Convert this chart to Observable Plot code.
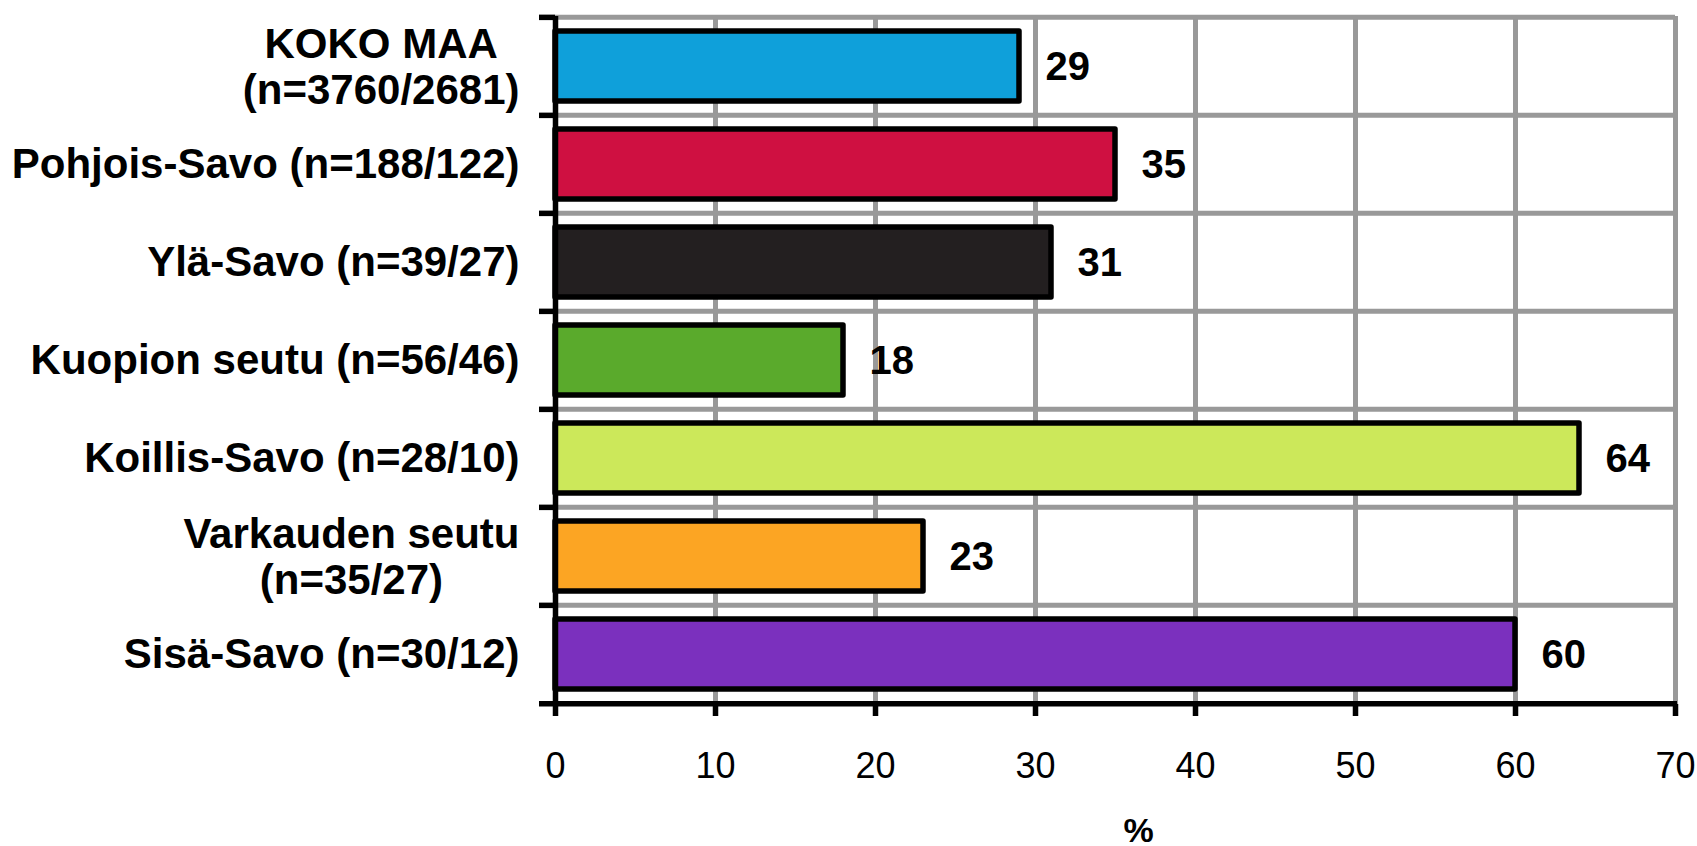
<!DOCTYPE html>
<html>
<head>
<meta charset="utf-8">
<script src="https://cdn.jsdelivr.net/npm/d3@7"></script>
<script src="https://cdn.jsdelivr.net/npm/@observablehq/plot@0.6"></script>
<style>
  html, body { margin: 0; padding: 0; background: #fff; }
  #chart svg { display: block; }
</style>
</head>
<body>
<div id="chart"></div>
<script>
const categories = [
  "KOKO MAA\n(n=3760/2681)",
  "Pohjois-Savo (n=188/122)",
  "Ylä-Savo (n=39/27)",
  "Kuopion seutu (n=56/46)",
  "Koillis-Savo (n=28/10)",
  "Varkauden seutu\n(n=35/27)",
  "Sisä-Savo (n=30/12)"
];
const values = [29, 35, 31, 18, 64, 23, 60];
const colors = ["#0FA0DA", "#CF1041", "#231F20", "#5AAA2C", "#CCE85A", "#FCA523", "#7B30BE"];
const xTicks = [0, 10, 20, 30, 40, 50, 60, 70];
const xLabel = "%";

const data = categories.map((c, i) => ({cat: c, value: values[i], color: colors[i]}));

const W = 1697, H = 846;
const mt = 16, mb = 142, ml = 555, mr = 22;
const step = (H - mt - mb) / categories.length;
const font = "'Liberation Sans', Arial, sans-serif";
const labelSize = 42;

const ctx = document.createElement("canvas").getContext("2d");
ctx.font = `bold ${labelSize}px 'Liberation Sans', Arial, sans-serif`;
const lineW = (s) => Math.max(...s.split("\n").map(l => ctx.measureText(l).width));

const singleCats = categories.filter(c => !c.includes("\n"));
const multiCats = categories.filter(c => c.includes("\n"));
const basePad = 36;

const labelAxes = [
  Plot.axisY({ticks: singleCats, tickSize: 0, tickPadding: basePad, fontSize: labelSize, fontWeight: "bold", textAnchor: "end", label: null, color: "black"}),
  ...multiCats.map(c => Plot.axisY({ticks: [c], tickSize: 0, tickPadding: basePad + lineW(c) / 2, fontSize: labelSize, fontWeight: "bold", textAnchor: "middle", lineHeight: 1.1, label: null, color: "black"}))
];

const chart = Plot.plot({
  width: W,
  height: H,
  marginTop: mt,
  marginBottom: mb,
  marginLeft: ml,
  marginRight: mr,
  style: {fontFamily: font, background: "white", overflow: "visible"},
  x: {domain: [xTicks[0], xTicks[xTicks.length - 1]]},
  y: {domain: categories, padding: 0},
  color: {type: "identity"},
  marks: [
    Plot.ruleX(xTicks.slice(1), {stroke: "#999999", strokeWidth: 5}),
    Plot.ruleY(categories, {dy: -step / 2, stroke: "#999999", strokeWidth: 5}),
    Plot.barX(data, {y: "cat", x: "value", fill: "color", stroke: "black", strokeWidth: 5.5, strokeLinejoin: "round", insetTop: 14, insetBottom: 14}),
    Plot.ruleX([xTicks[0]], {stroke: "black", strokeWidth: 5.5}),
    Plot.ruleY([categories[categories.length - 1]], {dy: step / 2, stroke: "black", strokeWidth: 5.5, insetLeft: -16, insetRight: -2}),
    Plot.axisY({tickSize: 16, tickFormat: () => "", dy: -step / 2, strokeWidth: 5.5, color: "black", label: null}),
    ...labelAxes,
    Plot.axisX({ticks: xTicks, tickSize: 12, tickPadding: 36, fontSize: 36, strokeWidth: 5.5, color: "black", label: null, tickFormat: d => String(d)}),
    Plot.text(data, {y: "cat", x: "value", text: d => String(d.value), dx: 26, dy: 1, textAnchor: "start", fontSize: 40, fontWeight: "bold", fill: "black"}),
    Plot.text([xLabel], {text: d => d, frameAnchor: "bottom", dx: 23, dy: 137, fontSize: 34, fontWeight: "bold", fill: "black"})
  ]
});
document.getElementById("chart").appendChild(chart);
</script>
</body>
</html>
